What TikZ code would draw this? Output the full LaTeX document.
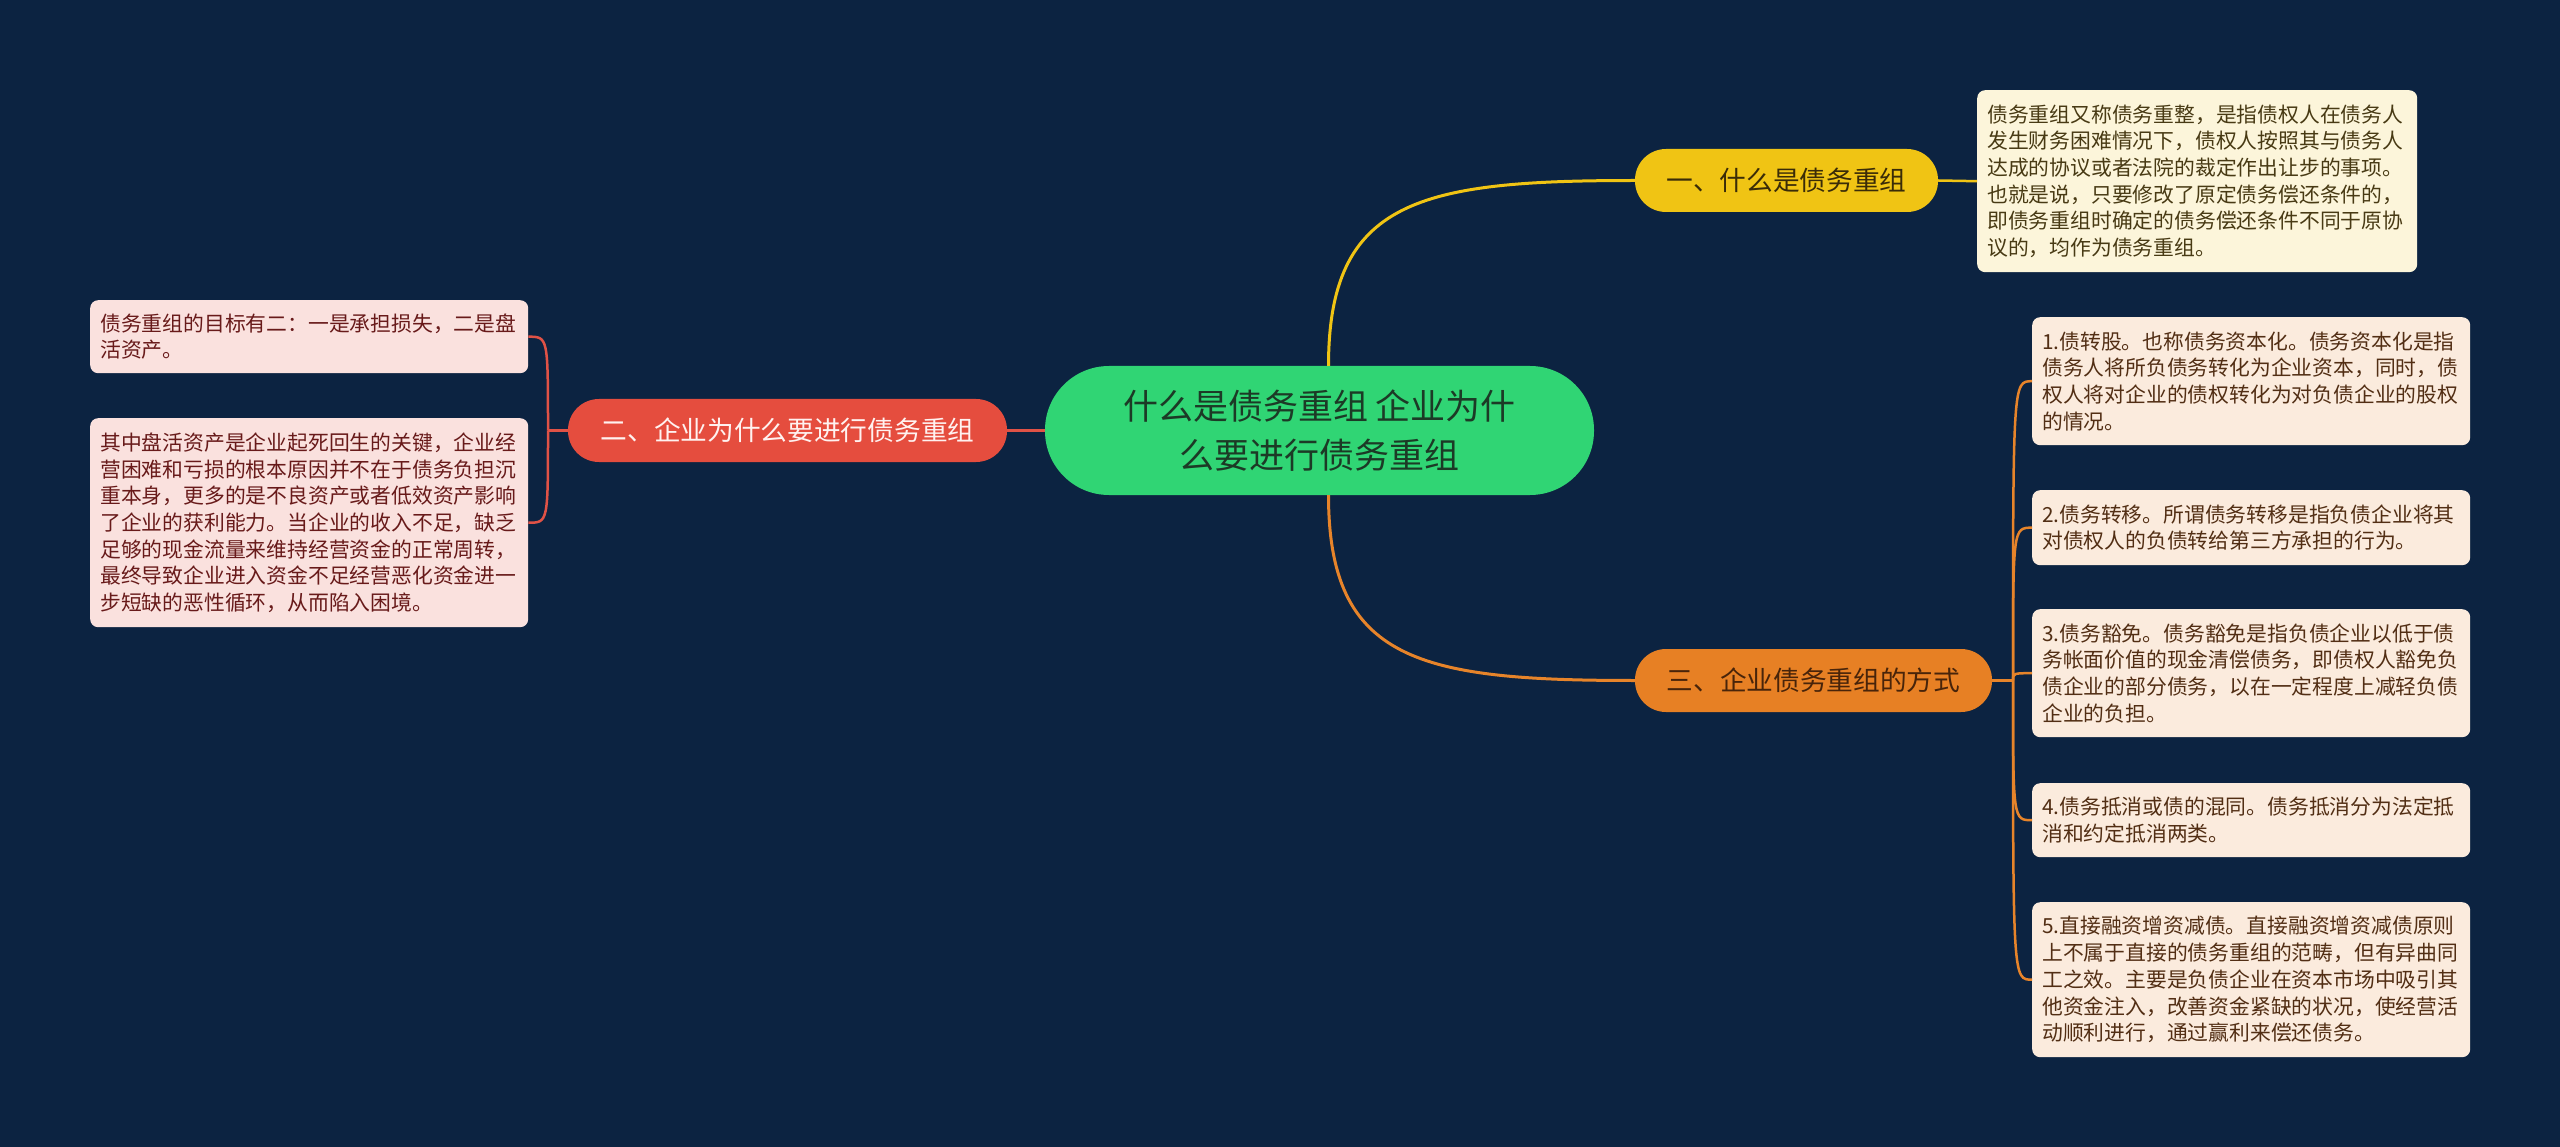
\documentclass[tikz,border=0pt]{standalone}
\usepackage{fontspec}
\setmainfont{Noto Sans CJK SC}
\definecolor{bg}{RGB}{12,35,65}
\definecolor{cgreen}{RGB}{48,213,116}
\definecolor{ctext}{RGB}{28,58,38}
\definecolor{ylw}{RGB}{240,196,20}
\definecolor{ylwtxt}{RGB}{58,44,8}
\definecolor{rednode}{RGB}{229,77,62}
\definecolor{redtxt}{RGB}{255,242,240}
\definecolor{org}{RGB}{231,128,36}
\definecolor{orgtxt}{RGB}{72,36,10}
\definecolor{cream}{RGB}{252,245,218}
\definecolor{creamtxt}{RGB}{72,58,20}
\definecolor{pink}{RGB}{250,225,222}
\definecolor{pinktxt}{RGB}{104,26,26}
\definecolor{peach}{RGB}{251,235,221}
\definecolor{peachtxt}{RGB}{82,46,20}
\definecolor{ylwl}{RGB}{240,196,20}
\definecolor{redl}{RGB}{224,82,70}
\definecolor{orgl}{RGB}{231,132,42}
\tikzset{
  topic/.style={rectangle, rounded corners=31pt, minimum height=63pt, inner sep=0pt,
    font=\fontsize{26.7pt}{32pt}\selectfont},
  leaf/.style={rectangle, rounded corners=8pt, anchor=north west, inner xsep=10pt,
    inner ysep=0pt, align=left, font=\fontsize{20.8pt}{26.7pt}\selectfont},
  ln/.style={line width=3pt},
  sub/.style={line width=2.5pt},
}
\begin{document}
\begin{tikzpicture}[x=1pt,y=-1pt]
\fill[bg] (0,0) rectangle (2560,1147);
\useasboundingbox (0,0) rectangle (2560,1147);

% central topic
\node[rectangle, rounded corners=64pt, minimum width=549pt, minimum height=129pt,
  inner sep=0pt, fill=cgreen, text=ctext, align=center,
  font=\fontsize{35pt}{49pt}\selectfont] (c) at (1319.5,430.5)
  {什么是债务重组 企业为什\\么要进行债务重组};

% main topics
\node[topic, fill=ylw, text=ylwtxt, minimum width=303pt] (t1) at (1786.5,180.5) {一、什么是债务重组};
\node[topic, fill=rednode, text=redtxt, minimum width=439pt] (t2) at (787.5,430.5) {二、企业为什么要进行债务重组};
\node[topic, fill=org, text=orgtxt, minimum width=357pt] (t3) at (1813.5,680.5) {三、企业债务重组的方式};

% leaves
\node[leaf, fill=cream, text=creamtxt, text width=420pt, minimum height=182pt] (a1) at (1977,90)
 {债务重组又称债务重整，是指债权人在债务人\\发生财务困难情况下，债权人按照其与债务人\\达成的协议或者法院的裁定作出让步的事项。\\也就是说，只要修改了原定债务偿还条件的，\\即债务重组时确定的债务偿还条件不同于原协\\议的，均作为债务重组。};

\node[leaf, fill=pink, text=pinktxt, text width=418pt, minimum height=73pt] (l1) at (90,300)
 {债务重组的目标有二：一是承担损失，二是盘\\活资产。};
\node[leaf, fill=pink, text=pinktxt, text width=418pt, minimum height=209pt] (l2) at (90,418)
 {其中盘活资产是企业起死回生的关键，企业经\\营困难和亏损的根本原因并不在于债务负担沉\\重本身，更多的是不良资产或者低效资产影响\\了企业的获利能力。当企业的收入不足，缺乏\\足够的现金流量来维持经营资金的正常周转，\\最终导致企业进入资金不足经营恶化资金进一\\步短缺的恶性循环，从而陷入困境。};

\node[leaf, fill=peach, text=peachtxt, text width=418pt, minimum height=128pt] (r1) at (2032,317)
 {1.债转股。也称债务资本化。债务资本化是指\\债务人将所负债务转化为企业资本，同时，债\\权人将对企业的债权转化为对负债企业的股权\\的情况。};
\node[leaf, fill=peach, text=peachtxt, text width=418pt, minimum height=75pt] (r2) at (2032,490)
 {2.债务转移。所谓债务转移是指负债企业将其\\对债权人的负债转给第三方承担的行为。};
\node[leaf, fill=peach, text=peachtxt, text width=418pt, minimum height=128pt] (r3) at (2032,609)
 {3.债务豁免。债务豁免是指负债企业以低于债\\务帐面价值的现金清偿债务，即债权人豁免负\\债企业的部分债务，以在一定程度上减轻负债\\企业的负担。};
\node[leaf, fill=peach, text=peachtxt, text width=418pt, minimum height=74pt] (r4) at (2032,783)
 {4.债务抵消或债的混同。债务抵消分为法定抵\\消和约定抵消两类。};
\node[leaf, fill=peach, text=peachtxt, text width=418pt, minimum height=155pt] (r5) at (2032,902)
 {5.直接融资增资减债。直接融资增资减债原则\\上不属于直接的债务重组的范畴，但有异曲同\\工之效。主要是负债企业在资本市场中吸引其\\他资金注入，改善资金紧缺的状况，使经营活\\动顺利进行，通过赢利来偿还债务。};

% junctions
\coordinate (jl) at (548,430.5);
\coordinate (jr) at (2013,680.5);

% connectors
\draw[ln, ylwl] ([xshift=9pt]c.north) .. controls +(0,-166) and +(-215,0) .. (t1.west);
\draw[sub, ylwl] (t1.east) -- (a1.west);
\draw[ln, orgl] ([xshift=9pt]c.south) .. controls +(0,166) and +(-215,0) .. (t3.west);
\draw[ln, redl] (c.west) -- (t2.east);
\draw[sub, redl] (t2.west) -- (jl);
\foreach \l in {l1,l2}
  \draw[sub, redl] (jl) .. controls (jl |- \l.east) and (jl |- \l.east) .. (\l.east);
\draw[sub, orgl] (t3.east) -- (jr);
\foreach \r in {r1,r2,r3,r4,r5}
  \draw[sub, orgl] (jr) .. controls (jr |- \r.west) and (jr |- \r.west) .. (\r.west);
\end{tikzpicture}
\end{document}
